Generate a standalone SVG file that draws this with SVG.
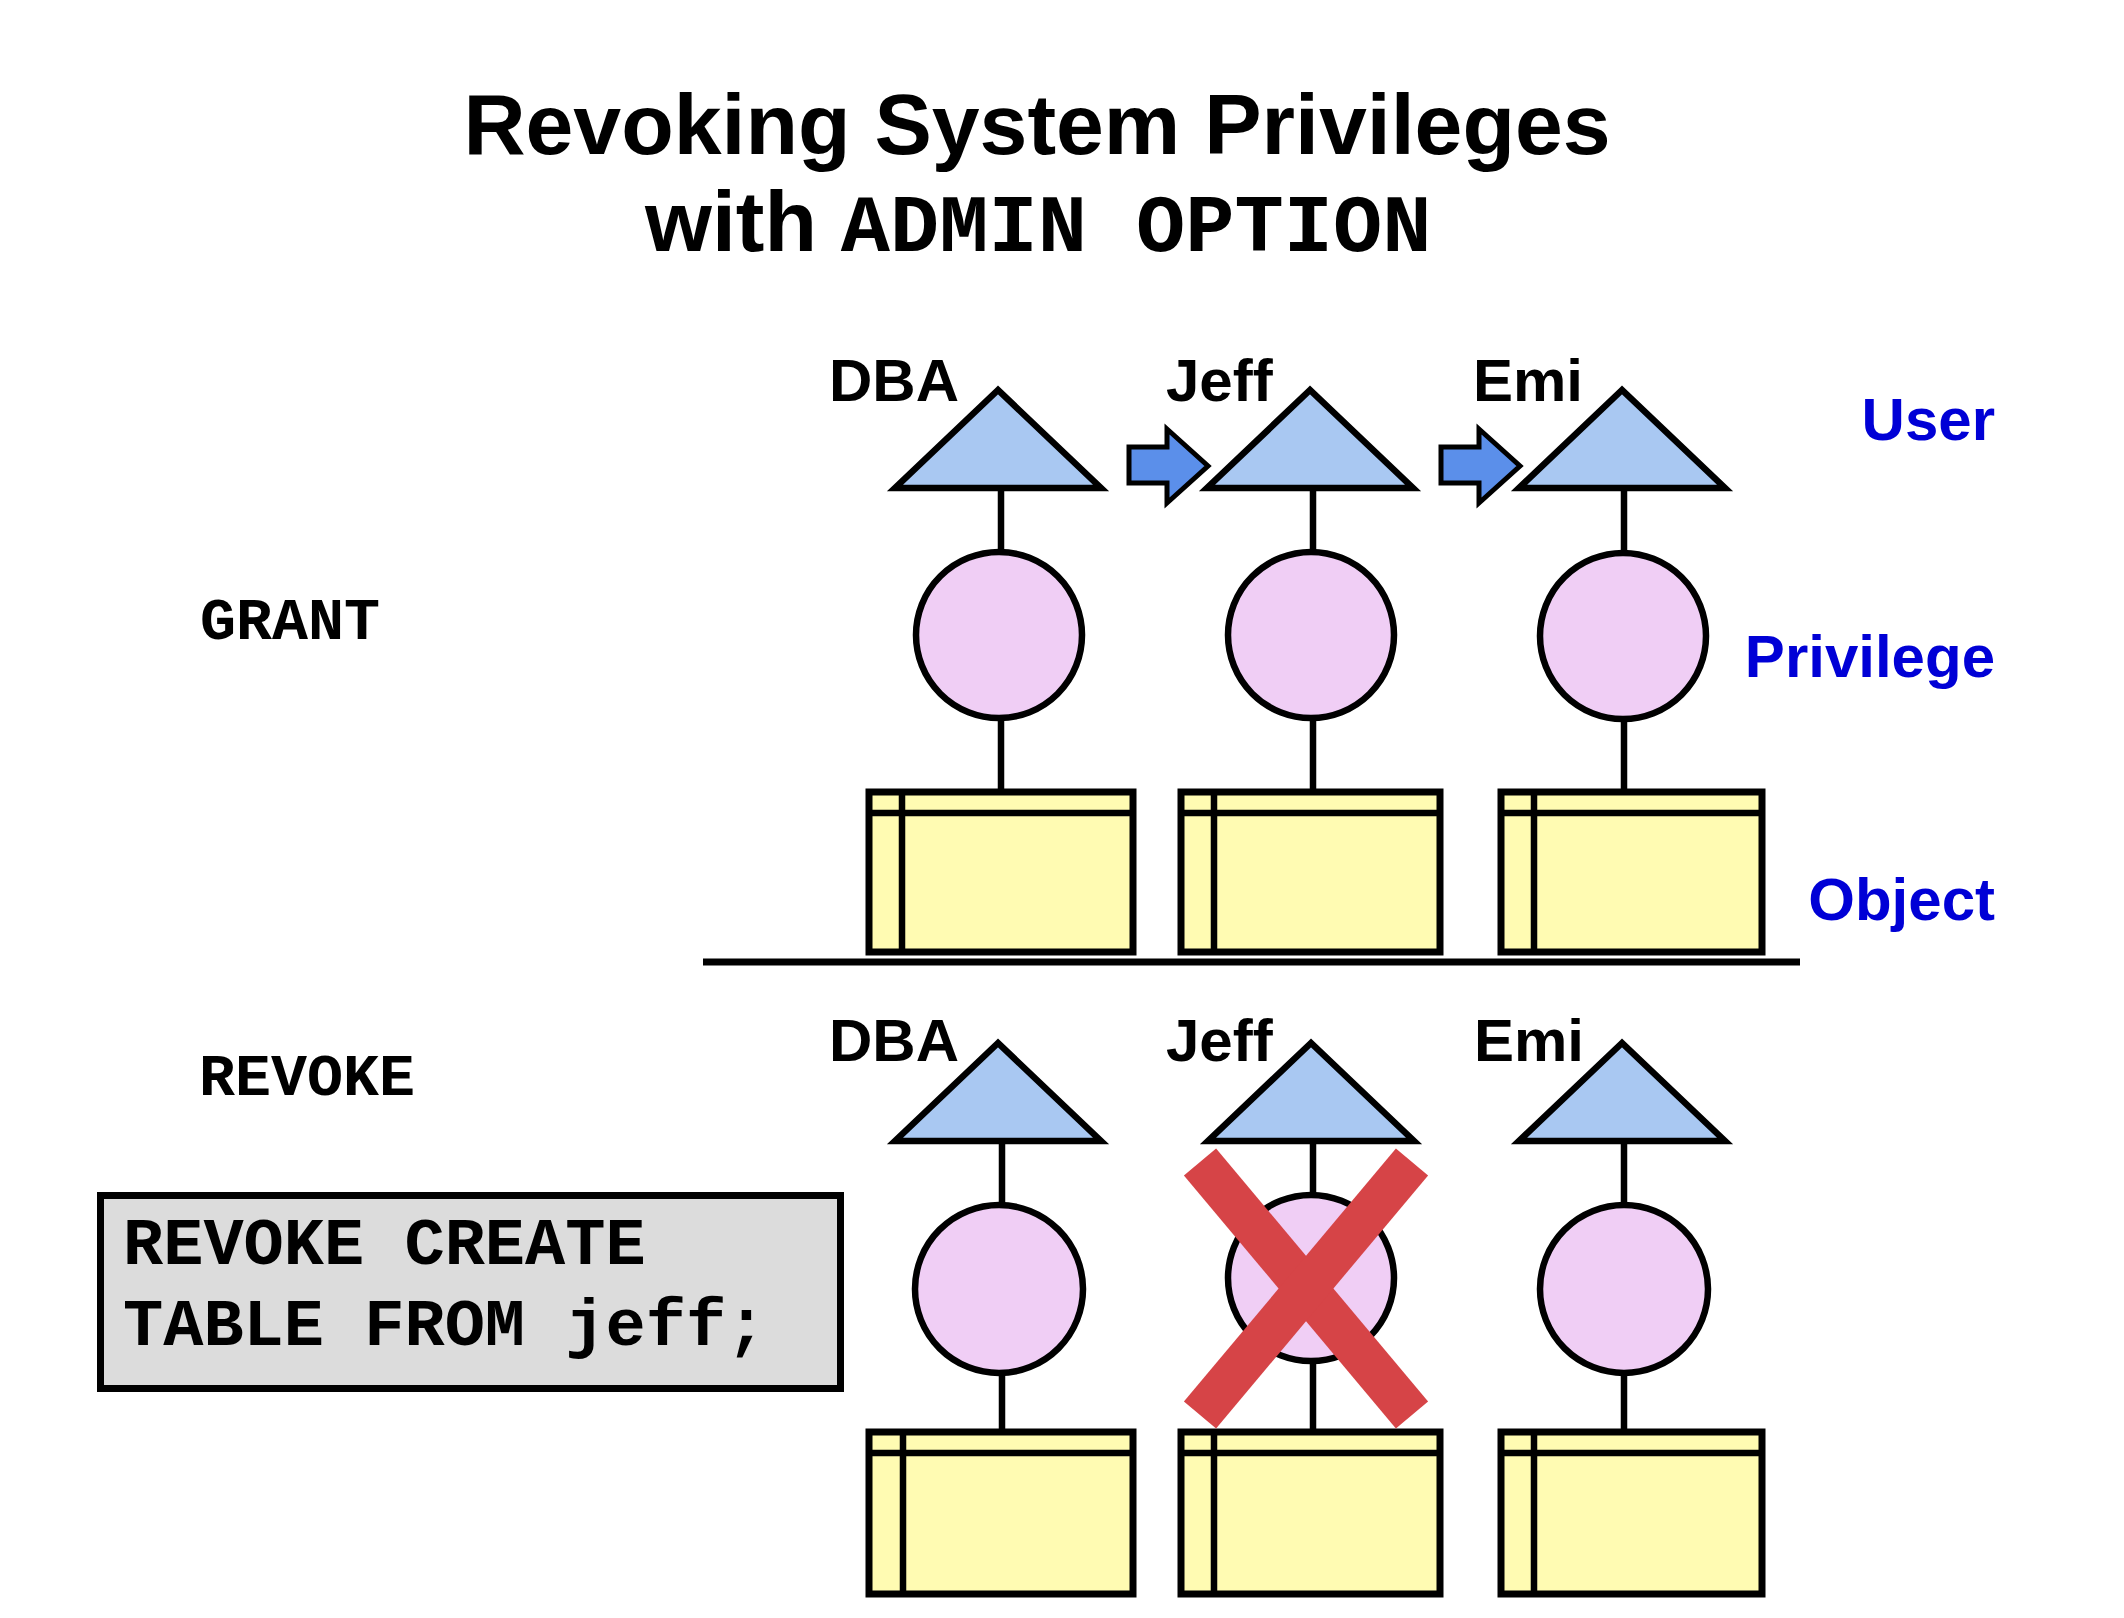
<svg xmlns="http://www.w3.org/2000/svg" width="2124" height="1618" viewBox="0 0 2124 1618">
<style>
.bg{fill:#ffffff}
.title{font-family:"Liberation Sans",Arial,sans-serif;font-weight:bold;font-size:86px;fill:#000}
.mono{font-family:"Liberation Mono","Courier New",monospace;font-weight:bold}
.name{font-family:"Liberation Sans",Arial,sans-serif;font-weight:bold;font-size:60px;fill:#000}
.legend{font-family:"Liberation Sans",Arial,sans-serif;font-weight:bold;font-size:60px;fill:#0000D6;text-anchor:end}
.user{fill:#A9C8F2;stroke:#000;stroke-width:6.5;stroke-linejoin:miter}
.priv{fill:#F0CEF5;stroke:#000;stroke-width:6.5}
.obj{fill:#FFFBB2;stroke:#000;stroke-width:7}
.inner{stroke:#000;stroke-width:6.5;fill:none}
.link{stroke:#000;stroke-width:6.5;fill:none}
.flow{fill:#5B8FEA;stroke:#000;stroke-width:5;stroke-linejoin:miter}
.cross{stroke:#D64447;stroke-width:42;stroke-linecap:butt}
.sql{fill:#DCDCDC;stroke:#000;stroke-width:7}
</style>
<defs>
  <polygon id="tri" points="0,-98 -103,0 103,0"/>
</defs>
<rect class="bg" x="0" y="0" width="2124" height="1618"/>

<g id="title">
  <text class="title" x="1037" y="154" text-anchor="middle">Revoking System Privileges</text>
  <text class="title" x="645" y="251">with <tspan class="mono" font-size="82">ADMIN OPTION</tspan></text>
</g>

<g id="section-labels">
  <text class="mono" x="200" y="639" font-size="60">GRANT</text>
  <text class="mono" x="199" y="1095" font-size="60">REVOKE</text>
</g>

<g id="legend">
  <text class="legend" x="1995" y="440">User</text>
  <text class="legend" x="1995" y="677">Privilege</text>
  <text class="legend" x="1995" y="920">Object</text>
</g>

<g id="connectors">
  <line class="link" x1="1001" y1="488" x2="1001" y2="795"/>
  <line class="link" x1="1313" y1="488" x2="1313" y2="795"/>
  <line class="link" x1="1624" y1="488" x2="1624" y2="795"/>
  <line class="link" x1="1002" y1="1141" x2="1002" y2="1435"/>
  <line class="link" x1="1313" y1="1141" x2="1313" y2="1435"/>
  <line class="link" x1="1624" y1="1141" x2="1624" y2="1435"/>
  <polygon class="flow" points="1129,447 1167,447 1167,429 1208,466 1167,503 1167,483 1129,483"/>
  <polygon class="flow" points="1441,447 1479,447 1479,429 1520,466 1479,503 1479,483 1441,483"/>
  <line x1="703" y1="962" x2="1800" y2="962" stroke="#000" stroke-width="7"/>
</g>

<g id="grant-dba">
  <text class="name" x="829" y="401">DBA</text>
  <use href="#tri" class="user" x="998" y="488"/>
  <circle class="priv" cx="999" cy="635" r="83"/>
  <rect class="obj" x="869" y="792" width="264" height="160"/>
  <line class="inner" x1="869" y1="813" x2="1133" y2="813"/>
  <line class="inner" x1="902" y1="792" x2="902" y2="952"/>
</g>
<g id="grant-jeff">
  <text class="name" x="1166" y="401">Jeff</text>
  <use href="#tri" class="user" x="1310" y="488"/>
  <circle class="priv" cx="1311" cy="635" r="83"/>
  <rect class="obj" x="1181" y="792" width="259" height="160"/>
  <line class="inner" x1="1181" y1="813" x2="1440" y2="813"/>
  <line class="inner" x1="1214" y1="792" x2="1214" y2="952"/>
</g>
<g id="grant-emi">
  <text class="name" x="1473" y="401">Emi</text>
  <use href="#tri" class="user" x="1622" y="488"/>
  <circle class="priv" cx="1623" cy="636" r="83"/>
  <rect class="obj" x="1501" y="792" width="261" height="160"/>
  <line class="inner" x1="1501" y1="813" x2="1762" y2="813"/>
  <line class="inner" x1="1534" y1="792" x2="1534" y2="952"/>
</g>

<g id="revoke-dba">
  <text class="name" x="829" y="1061">DBA</text>
  <use href="#tri" class="user" x="998" y="1141"/>
  <circle class="priv" cx="999" cy="1289" r="84"/>
  <rect class="obj" x="869" y="1432" width="264" height="162"/>
  <line class="inner" x1="869" y1="1453" x2="1133" y2="1453"/>
  <line class="inner" x1="903" y1="1432" x2="903" y2="1594"/>
</g>
<g id="revoke-jeff">
  <text class="name" x="1166" y="1061">Jeff</text>
  <use href="#tri" class="user" x="1311" y="1141"/>
  <circle class="priv" cx="1311" cy="1278" r="83"/>
  <rect class="obj" x="1181" y="1432" width="259" height="162"/>
  <line class="inner" x1="1181" y1="1453" x2="1440" y2="1453"/>
  <line class="inner" x1="1214" y1="1432" x2="1214" y2="1594"/>
</g>
<g id="revoke-emi">
  <text class="name" x="1474" y="1061">Emi</text>
  <use href="#tri" class="user" x="1622" y="1141"/>
  <circle class="priv" cx="1624" cy="1289" r="84"/>
  <rect class="obj" x="1501" y="1432" width="261" height="162"/>
  <line class="inner" x1="1501" y1="1453" x2="1762" y2="1453"/>
  <line class="inner" x1="1534" y1="1432" x2="1534" y2="1594"/>
</g>

<g id="revoked-mark">
  <line class="cross" x1="1200" y1="1162" x2="1412" y2="1415"/>
  <line class="cross" x1="1412" y1="1162" x2="1200" y2="1415"/>
</g>

<g id="sql-statement">
  <rect class="sql" x="100.5" y="1195.5" width="740" height="193"/>
  <text class="mono" x="123" y="1264" font-size="67">REVOKE CREATE</text>
  <text class="mono" x="123" y="1345" font-size="67">TABLE FROM jeff;</text>
</g>
</svg>
